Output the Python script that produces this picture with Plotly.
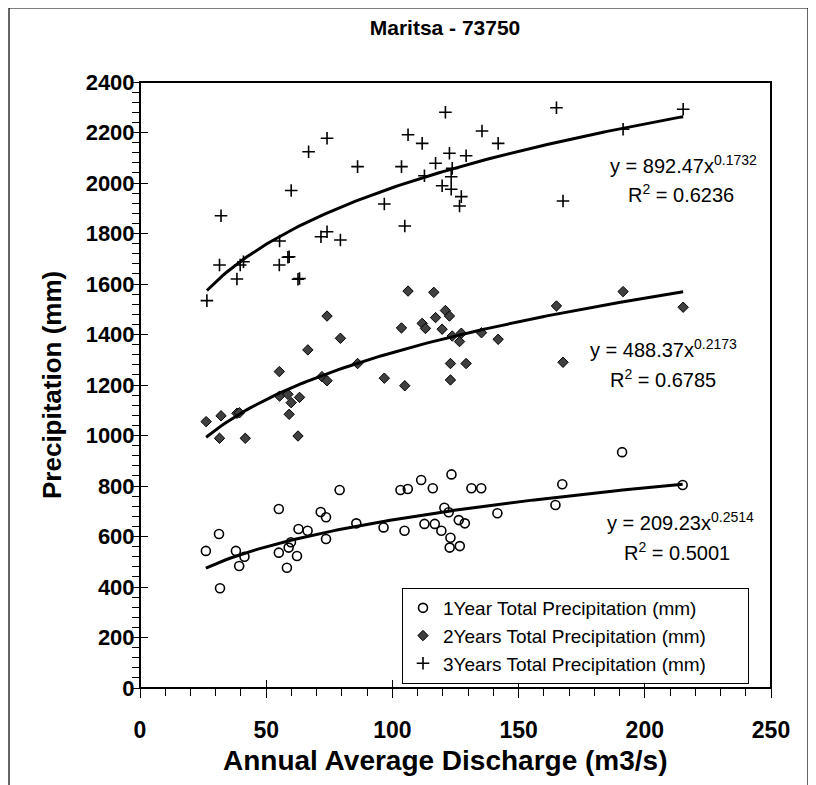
import numpy as np
import plotly.graph_objects as go

FONT = 'Arial, Liberation Sans, sans-serif'

# 1 year totals
x1 = [26.1, 31.3, 31.7, 38.0, 39.3, 41.4, 55.0, 55.0, 58.2, 58.9, 59.8, 62.2, 62.8, 66.4,
      71.6, 73.7, 73.7, 79.1, 85.7, 96.5, 103.2, 104.8, 106.1, 111.4, 112.7, 116.0, 116.8,
      119.4, 120.6, 122.3, 122.7, 123.0, 123.4, 126.3, 126.7, 128.7, 131.3, 135.2, 141.6,
      164.6, 167.3, 191.0, 215.0]
y1 = [543, 610, 395, 543, 483, 520, 709, 536, 476, 556, 577, 523, 630, 623,
      697, 676, 590, 784, 652, 636, 784, 623, 788, 824, 650, 791, 650,
      623, 714, 696, 556, 595, 846, 665, 562, 652, 791, 791, 692,
      725, 807, 934, 804]

# 2 years totals
x2 = [26.2, 31.5, 32.1, 38.4, 39.4, 41.7, 55.2, 55.3, 58.6, 59.1, 59.9, 62.6, 63.2, 66.5,
      72.1, 74.1, 74.1, 79.4, 86.2, 96.8, 103.6, 104.9, 106.2, 111.8, 113.1, 116.4, 117.1,
      119.7, 121.0, 122.6, 123.0, 123.0, 123.7, 126.6, 127.3, 129.2, 135.3, 141.9,
      165.0, 167.6, 191.4, 215.2]
y2 = [1055, 989, 1078, 1088, 1090, 989, 1253, 1156, 1163, 1084, 1130, 998, 1151, 1339,
      1233, 1217, 1473, 1385, 1285, 1227, 1426, 1197, 1572, 1444, 1424, 1567, 1467,
      1421, 1495, 1473, 1285, 1220, 1394, 1372, 1405, 1285, 1407, 1381,
      1513, 1290, 1570, 1508]

# 3 years totals
x3 = [26.5, 31.5, 32.1, 38.4, 39.7, 41.0, 55.2, 55.3, 58.6, 59.1, 59.9, 62.6, 63.2, 66.8,
      71.7, 74.1, 74.1, 79.4, 86.2, 96.8, 103.6, 104.9, 106.2, 111.8, 112.7, 117.1, 119.7,
      121.0, 122.6, 123.3, 123.3, 123.7, 126.6, 127.3, 129.2, 135.5, 141.9,
      165.0, 167.6, 191.4, 215.2]
y3 = [1534, 1675, 1870, 1620, 1675, 1688, 1675, 1770, 1706, 1708, 1970, 1619, 1622, 2124,
      1787, 1807, 2177, 1774, 2065, 1917, 2065, 1830, 2191, 2157, 2029, 2078, 1989,
      2280, 2118, 2025, 1975, 2058, 1909, 1946, 2108, 2206, 2157,
      2298, 1929, 2213, 2292]

# power trendlines as printed on the chart: y = a * x^b
fits = [(209.23, 0.2514, '0.5001'), (488.37, 0.2173, '0.6785'), (892.47, 0.1732, '0.6236')]
names = ['1Year Total Precipitation (mm)', '2Years Total Precipitation (mm)',
         '3Years Total Precipitation (mm)']

# the page body adds an 8px margin, so the figure is drawn 8px smaller
W, H, OFF = 808, 777, 8
PAD = '\u00a0' * 7  # widens the legend box like the original


def px(x):
    return (x - 140) / 631


def py(y):
    return (688 - y) / 606


fig = go.Figure()

fig.add_trace(go.Scatter(x=x1, y=y1, mode='markers', name=names[0] + PAD,
                         marker=dict(symbol='circle-open', size=9, color='black', line=dict(width=1.6))))
fig.add_trace(go.Scatter(x=x2, y=y2, mode='markers', name=names[1] + PAD,
                         marker=dict(symbol='diamond', size=8, color='#404040',
                                     line=dict(color='black', width=1))))
fig.add_trace(go.Scatter(x=x3, y=y3, mode='markers', name=names[2] + PAD,
                         marker=dict(symbol='cross-thin-open', size=9, color='black',
                                     line=dict(color='black', width=1.6))))

for xs, (a, b, r2) in zip([x1, x2, x3], fits):
    xt = np.linspace(min(xs), max(xs), 120)
    fig.add_trace(go.Scatter(x=xt, y=a * xt ** b, mode='lines', showlegend=False,
                             line=dict(color='black', width=3), hoverinfo='skip'))

# empty overlay pair to get Excel-style crossing major ticks
fig.add_trace(go.Scatter(x=[None], y=[None], xaxis='x2', yaxis='y2', showlegend=False,
                         hoverinfo='skip'))

eq_pos = [((605, 521), (622, 551)), ((588, 348), (608, 378)), ((608, 164), (626, 193))]
ann = []
for (a, b, r2), (p1, p2) in zip(fits, eq_pos):
    ann.append(dict(x=px(p1[0]), y=py(p1[1]), xref='paper', yref='paper', xanchor='left',
                    yanchor='middle', showarrow=False, font=dict(size=20, color='black'),
                    text=f'y = {a:.2f}x<sup>{b}</sup>'))
    ann.append(dict(x=px(p2[0]), y=py(p2[1]), xref='paper', yref='paper', xanchor='left',
                    yanchor='middle', showarrow=False, font=dict(size=20, color='black'),
                    text=f'R<sup>2</sup> = {r2}'))

ann.append(dict(x=px(52), y=py(385), xref='paper', yref='paper', xanchor='center',
                yanchor='middle', textangle=-90, showarrow=False,
                text='Precipitation (mm)', font=dict(size=26, weight='bold', color='black')))
ann.append(dict(x=px(445), y=py(760), xref='paper', yref='paper', xanchor='center',
                yanchor='middle', showarrow=False,
                text='Annual Average Discharge (m3/s)',
                font=dict(size=28, weight='bold', color='black')))

ax_common = dict(showgrid=False, zeroline=False, tickcolor='black', tickwidth=1.3,
                 automargin=False)

fig.update_layout(
    width=W, height=H,
    margin=dict(l=140 - OFF, r=45, t=82 - OFF, b=97),
    paper_bgcolor='white', plot_bgcolor='white',
    font=dict(family=FONT, color='black'),
    title=dict(text='<b>Maritsa - 73750</b>', x=(445 - OFF) / W, xanchor='center', xref='container',
               y=1 - (28 - OFF) / H, yanchor='middle', yref='container',
               font=dict(size=21, color='black')),
    xaxis=dict(range=[0, 250], dtick=50, tick0=0, ticks='outside', ticklen=9,
               showline=False, tickfont=dict(size=23, weight='bold'), ticklabelstandoff=12,
               minor=dict(dtick=10, ticks='outside', ticklen=7, tickcolor='black', tickwidth=1.3),
               **ax_common),
    yaxis=dict(range=[0, 2400], dtick=200, tick0=0, ticks='outside', ticklen=8,
               showline=False, tickfont=dict(size=22, weight='bold'), ticklabelstandoff=-8,
               minor=dict(dtick=40, ticks='outside', ticklen=7, tickcolor='black', tickwidth=1.3),
               **ax_common),
    xaxis2=dict(range=[0, 250], dtick=50, tick0=0, ticks='inside', ticklen=8, overlaying='x',
                anchor='y2', showticklabels=False, showline=False, **ax_common),
    yaxis2=dict(range=[0, 2400], dtick=200, tick0=0, ticks='inside', ticklen=8, overlaying='y',
                anchor='x2', side='left', showticklabels=False, showline=False, **ax_common),
    legend=dict(x=px(402), y=py(588), xanchor='left', yanchor='top', bgcolor='white',
                bordercolor='black', borderwidth=1, font=dict(size=19, color='black'),
                tracegroupgap=0),
    annotations=ann,
    shapes=[
        dict(type='rect', xref='paper', yref='paper', x0=px(9), x1=px(808),
             y0=py(800), y1=py(8), line=dict(color='black', width=1.2), layer='below'),
        dict(type='rect', xref='paper', yref='paper', x0=0, x1=1, y0=0, y1=1,
             line=dict(color='black', width=2), layer='above'),
    ],
    showlegend=True,
)

fig.write_html('out.html')
